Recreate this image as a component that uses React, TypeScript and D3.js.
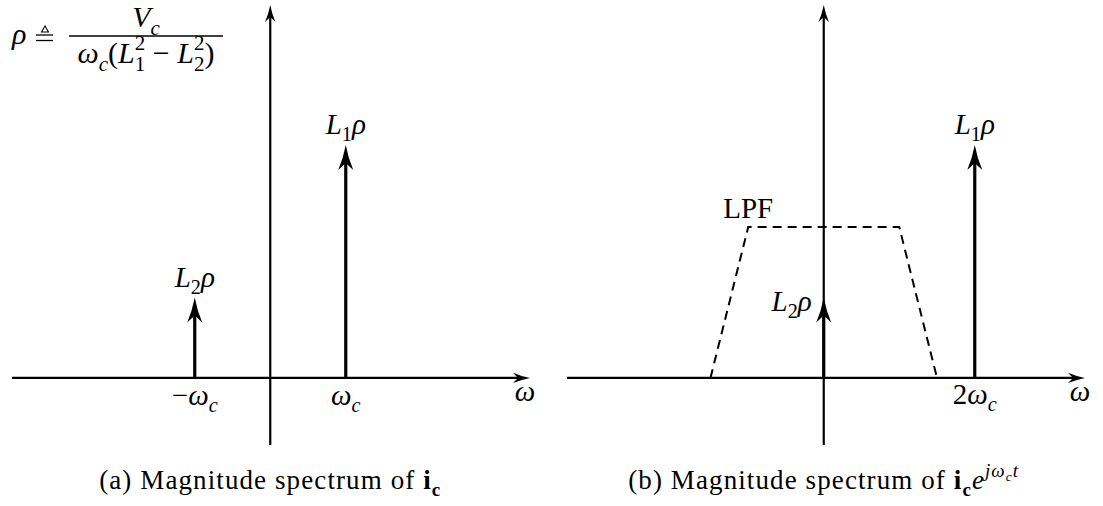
import React from "react";
import * as d3 from "d3";

// Spectrum data: frequencies in units of ωc, magnitudes relative to L1ρ
const L1_RHO = 1.0;
const L2_RHO = 0.345;

// (a) spectrum of i_c: components at −ωc and +ωc
const spikeFreqA = [-1, 1];
const spikeMagA = [L2_RHO, L1_RHO];
const spikeLabelA = ["L2ρ", "L1ρ"];
const tickFreqA = [-1, 1];
const tickLabelA = ["−ωc", "ωc"];

// (b) spectrum of i_c e^{jωc t}: components shifted to 0 and 2ωc
const spikeFreqB = [0, 2];
const spikeMagB = [L2_RHO, L1_RHO];
const tickFreqB = [2];
const tickLabelB = ["2ωc"];

// Low-pass filter trapezoid
const lpfFreq = [-1.5, -1.0, 1.0, 1.5];
const lpfGain = [0, 0.648, 0.648, 0];

const W = 1103;
const H = 506;
const FONT = "'Liberation Serif', 'Times New Roman', serif";

type Piece = { s: string; it?: boolean; bold?: boolean; off?: number; sz?: number; dx?: number };

function MathText(props: {
  x: number;
  y: number;
  size: number;
  anchor?: string;
  pieces: Piece[];
  spacing?: number;
}) {
  const { x, y, size, anchor = "middle", pieces, spacing = 0 } = props;
  let prev = 0;
  return (
    <text
      x={x}
      y={y}
      fontSize={size}
      textAnchor={anchor}
      fontFamily={FONT}
      fill="#000"
      letterSpacing={spacing}
    >
      {pieces.map((p, i) => {
        const off = (p.off ?? 0) * size;
        const dy = off - prev;
        prev = off;
        return (
          <tspan
            key={i}
            dy={dy}
            dx={p.dx !== undefined ? p.dx * size : undefined}
            fontStyle={p.it ? "italic" : "normal"}
            fontWeight={p.bold ? "bold" : "normal"}
            fontSize={(p.sz ?? 1) * size}
          >
            {p.s}
          </tspan>
        );
      })}
    </text>
  );
}

const SUB = 0.25;
const SUP = -0.42;
const SMALL = 0.7;

// "L2ρ" / "L1ρ" style label
function magPieces(label: string): Piece[] {
  return [
    { s: label[0], it: true },
    { s: label[1], off: SUB, sz: SMALL },
    { s: label.slice(2), it: true },
  ];
}

// "−ωc", "ωc", "2ωc": optional prefix, then ω with subscript c
function tickPieces(label: string): Piece[] {
  const pre = label.replace("ωc", "");
  const out: Piece[] = [];
  if (pre) out.push({ s: pre });
  out.push({ s: "ω", it: true });
  out.push({ s: "c", it: true, off: SUB, sz: SMALL });
  return out;
}

// Stealth-style arrowhead pointing up with tip at (0,0)
function arrowUp(len: number, half: number, notch: number) {
  return `M0,0 Q${half * 0.35},${len * 0.55} ${half},${len} L0,${len - notch} L${-half},${len} Q${-half * 0.35},${len * 0.55} 0,0 Z`;
}
function arrowRight(len: number, half: number, notch: number) {
  return `M0,0 Q${-len * 0.55},${half * 0.35} ${-len},${half} L${-(len - notch)},0 L${-len},${-half} Q${-len * 0.55},${-half * 0.35} 0,0 Z`;
}

const AXIS_W = 2.2;
const SPIKE_W = 3.2;

function Axes(props: { x: d3.ScaleLinear<number, number>; y: d3.ScaleLinear<number, number> }) {
  const { x, y } = props;
  const [x0, x1] = x.domain();
  const [y0, y1] = y.domain();
  const ax = x(0);
  const ay = y(0);
  const xEnd = x(x1);
  const yTop = y(y1);
  return (
    <g>
      <line x1={x(x0)} y1={ay} x2={xEnd - 8} y2={ay} stroke="#000" strokeWidth={AXIS_W} />
      <path d={arrowRight(17, 5.2, 5)} transform={`translate(${xEnd},${ay})`} fill="#000" />
      <line x1={ax} y1={y(y0)} x2={ax} y2={yTop + 8} stroke="#000" strokeWidth={AXIS_W} />
      <path d={arrowUp(17, 5.2, 5)} transform={`translate(${ax},${yTop})`} fill="#000" />
    </g>
  );
}

function Spike(props: { px: number; py0: number; py: number }) {
  const { px, py0, py } = props;
  return (
    <g>
      <line x1={px} y1={py0} x2={px} y2={py + 12} stroke="#000" strokeWidth={SPIKE_W} />
      <path d={arrowUp(25, 7.5, 7)} transform={`translate(${px},${py})`} fill="#000" />
    </g>
  );
}

export default function App() {
  const y = d3.scaleLinear().domain([-0.288, 1.601]).range([445, 5]);
  const xA = d3.scaleLinear().domain([-3.42, 3.44]).range([12, 530]);
  const xB = d3.scaleLinear().domain([-3.4, 3.46]).range([567, 1085]);
  const y0 = y(0);

  const lpfLine = d3
    .line<number>()
    .x((_, i) => xB(lpfFreq[i]))
    .y((_, i) => y(lpfGain[i]));

  const mathSize = 29;
  const fracSize = 30;
  const capSize = 27;

  return (
    <svg width={W} height={H} style={{ position: "absolute", left: 0, top: 0, background: "#fff" }}>
      <rect width={W} height={H} fill="#fff" />

      {/* Definition of ρ */}
      <g>
        <MathText x={12} y={44} size={fracSize} anchor="start" pieces={[{ s: "ρ", it: true }]} />
        {/* "≜": equals sign with a small triangle on top */}
        <line x1={36} y1={35} x2={53} y2={35} stroke="#000" strokeWidth={1.3} />
        <line x1={36} y1={40.5} x2={53} y2={40.5} stroke="#000" strokeWidth={1.3} />
        <path d="M41.5,32 L48.5,32 L45,26 Z" fill="none" stroke="#000" strokeWidth={1.1} />
        <MathText
          x={146}
          y={27}
          size={fracSize}
          pieces={[
            { s: "V", it: true },
            { s: "c", it: true, off: SUB, sz: SMALL },
          ]}
        />
        <line x1={69} y1={36} x2={223} y2={36} stroke="#000" strokeWidth={1.4} />
        <MathText
          x={146}
          y={63}
          size={fracSize}
          pieces={[
            { s: "ω", it: true },
            { s: "c", it: true, off: SUB, sz: SMALL },
            { s: "(" },
            { s: "L", it: true },
            { s: "1", off: SUB, sz: SMALL },
            { s: "2", off: SUP, sz: SMALL, dx: -0.35 },
            { s: " − " },
            { s: "L", it: true },
            { s: "2", off: SUB, sz: SMALL },
            { s: "2", off: SUP, sz: SMALL, dx: -0.35 },
            { s: ")" },
          ]}
        />
      </g>

      {/* (a) */}
      <Axes x={xA} y={y} />
      {spikeFreqA.map((f, i) => (
        <g key={`a${i}`}>
          <Spike px={xA(f)} py0={y0} py={y(spikeMagA[i])} />
          <MathText x={xA(f)} y={y(spikeMagA[i]) - 11} size={mathSize} pieces={magPieces(spikeLabelA[i])} />
        </g>
      ))}
      {tickFreqA.map((f, i) => (
        <MathText key={`ta${i}`} x={xA(f)} y={y0 + 27} size={mathSize} pieces={tickPieces(tickLabelA[i])} />
      ))}
      <MathText x={xA(xA.domain()[1]) - 5} y={y0 + 23} size={mathSize} pieces={[{ s: "ω", it: true }]} />

      {/* (b) */}
      <Axes x={xB} y={y} />
      <path d={lpfLine(lpfFreq) ?? ""} fill="none" stroke="#000" strokeWidth={2} strokeDasharray="9 6" />
      <MathText x={xB(lpfFreq[1])} y={y(lpfGain[1]) - 9} size={mathSize} pieces={[{ s: "LPF" }]} />
      {spikeFreqB.map((f, i) => (
        <Spike key={`b${i}`} px={xB(f)} py0={y0} py={y(spikeMagB[i])} />
      ))}
      <MathText
        x={xB(spikeFreqB[0]) - 12}
        y={y(spikeMagB[0]) + 13}
        size={mathSize}
        anchor="end"
        pieces={magPieces("L2ρ")}
      />
      <MathText x={xB(spikeFreqB[1])} y={y(spikeMagB[1]) - 11} size={mathSize} pieces={magPieces("L1ρ")} />
      {tickFreqB.map((f, i) => (
        <MathText key={`tb${i}`} x={xB(f)} y={y0 + 26} size={mathSize} pieces={tickPieces(tickLabelB[i])} />
      ))}
      <MathText x={xB(xB.domain()[1]) - 5} y={y0 + 23} size={mathSize} pieces={[{ s: "ω", it: true }]} />

      {/* Captions */}
      <MathText
        x={xA(0)}
        y={489}
        size={capSize}
        spacing={1.1}
        pieces={[
          { s: "(a) Magnitude spectrum of " },
          { s: "i", bold: true },
          { s: "c", bold: true, off: SUB, sz: SMALL },
        ]}
      />
      <MathText
        x={xB(0)}
        y={489}
        size={capSize}
        spacing={1.1}
        pieces={[
          { s: "(b) Magnitude spectrum of " },
          { s: "i", bold: true },
          { s: "c", bold: true, off: SUB, sz: SMALL },
          { s: "e", it: true, off: 0 },
          { s: "jω", it: true, off: -0.45, sz: SMALL },
          { s: "c", it: true, off: -0.3, sz: 0.5 },
          { s: "t", it: true, off: -0.45, sz: SMALL },
        ]}
      />
    </svg>
  );
}
